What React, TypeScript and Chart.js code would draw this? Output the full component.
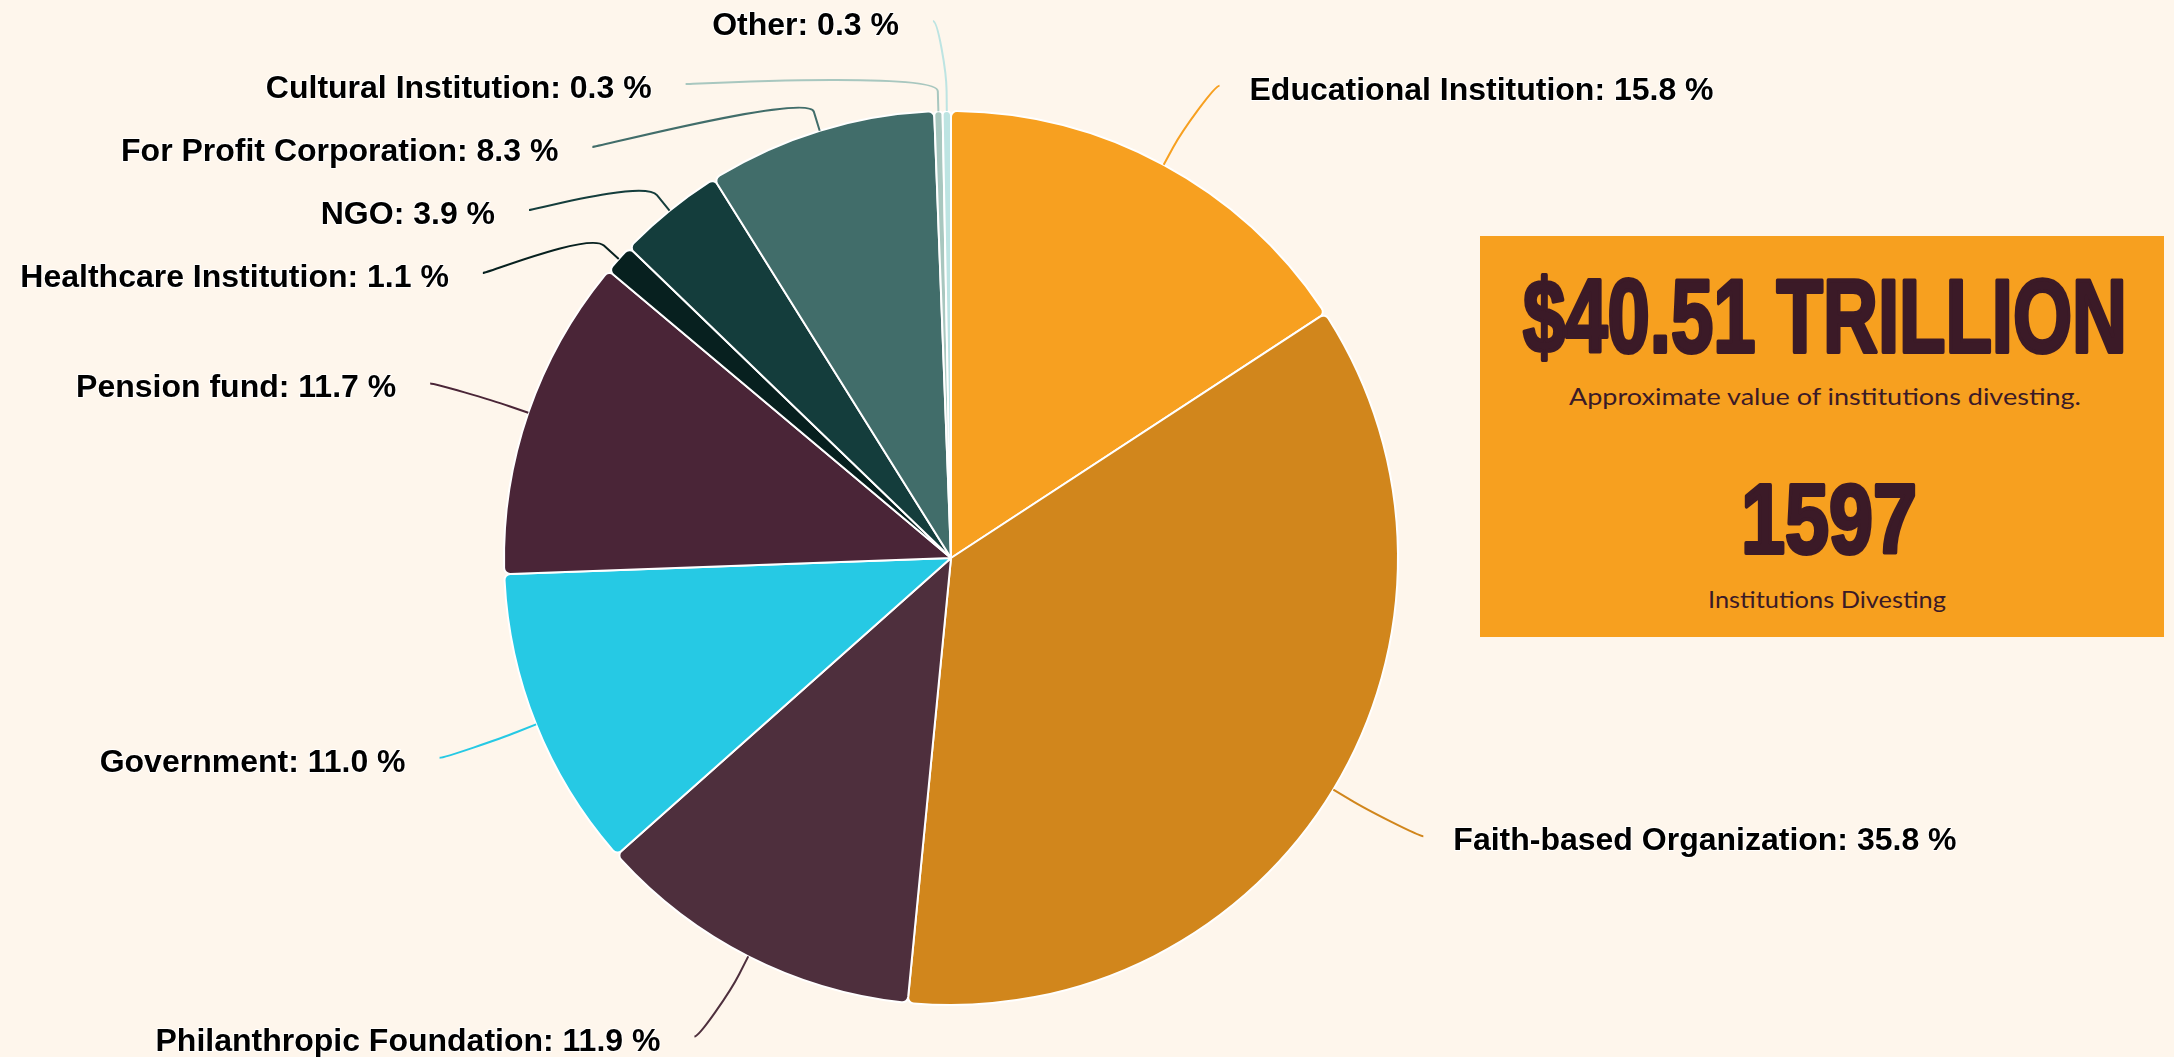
import { useEffect, useRef } from 'react';
import { Chart, registerables } from 'chart.js';

Chart.register(...registerables);

const W = 2174;
const H = 1057;
const BG = '#FEF6EC';
const INK = '#3B1A27';

// ---- data ----
const categories = [
  'Educational Institution',
  'Faith-based Organization',
  'Philanthropic Foundation',
  'Government',
  'Pension fund',
  'Healthcare Institution',
  'NGO',
  'For Profit Corporation',
  'Cultural Institution',
  'Other',
];
const shares = [15.8, 35.8, 11.9, 11.0, 11.7, 1.1, 3.9, 8.3, 0.3, 0.3];
const sliceColors = [
  '#F7A020',
  '#D1861C',
  '#4E2F3D',
  '#26C9E4',
  '#4A2537',
  '#07201F',
  '#143D3C',
  '#416D6A',
  '#A8C7BF',
  '#BDE4E2',
];

const totalValue = '$40.51 TRILLION';
const totalValueCaption = 'Approximate value of institutions divesting.';
const institutionCount = '1597';
const institutionCountCaption = 'Institutions Divesting';

// ---- label layout parameters ----
const LABEL_DISTANCE = 90;
const BREAK_DISTANCE = 20;
const LABEL_PADDING = 13;
const LABEL_SLOT = 63;
const LABEL_FONT = 'bold 32px "Liberation Sans", Arial, Helvetica, sans-serif';

function distribute(targets: number[], slot: number, minC: number, maxC: number): number[] {
  type G = { idx: number[]; sum: number; first: number };
  const place = (g: G) => {
    const n = g.idx.length;
    let first = g.sum / n - ((n - 1) * slot) / 2;
    first = Math.max(minC, Math.min(first, maxC - (n - 1) * slot));
    g.first = first;
  };
  const groups: G[] = targets.map((t, i) => ({ idx: [i], sum: t, first: t }));
  groups.forEach(place);
  let merged = true;
  while (merged) {
    merged = false;
    for (let i = 0; i < groups.length - 1; i++) {
      const a = groups[i];
      const b = groups[i + 1];
      const aLast = a.first + (a.idx.length - 1) * slot;
      if (b.first < aLast + slot) {
        const g: G = { idx: [...a.idx, ...b.idx], sum: a.sum + b.sum, first: 0 };
        place(g);
        groups.splice(i, 2, g);
        merged = true;
        break;
      }
    }
  }
  const out: number[] = new Array(targets.length);
  groups.forEach((g) => g.idx.forEach((k, j) => (out[k] = g.first + j * slot)));
  return out;
}

const outsideLabels = {
  id: 'outsideLabels',
  afterDatasetsDraw(chart: any) {
    const meta = chart.getDatasetMeta(0);
    const arcs = meta.data as any[];
    if (!arcs.length) return;
    const ctx: CanvasRenderingContext2D = chart.ctx;
    const cx = arcs[0].x;
    const cy = arcs[0].y;
    const r = arcs[0].outerRadius;
    const R = r + LABEL_DISTANCE;
    const items = arcs.map((arc, i) => {
      const mid = (arc.startAngle + arc.endAngle) / 2;
      const cos = Math.cos(mid);
      const sin = Math.sin(mid);
      return { i, cos, sin, left: cos < 0, natural: cy + R * sin, x: 0, y: 0 };
    });
    for (const left of [false, true]) {
      const half = items.filter((it) => it.left === left).sort((a, b) => a.natural - b.natural);
      const ys = distribute(half.map((h) => h.natural), LABEL_SLOT, cy - R, cy + R);
      half.forEach((h, k) => {
        h.y = ys[k];
        const yForX = h.y < cy - R + 2 || h.y > cy + R - 2 ? h.natural : h.y;
        const dy = Math.max(-R, Math.min(R, yForX - cy));
        const dx = Math.sqrt(R * R - dy * dy) + LABEL_PADDING;
        h.x = cx + (left ? -dx : dx);
      });
    }
    ctx.save();
    for (const it of items) {
      const color = sliceColors[it.i];
      const tx = cx + r * it.cos;
      const ty = cy + r * it.sin;
      const bx = cx + (r + BREAK_DISTANCE) * it.cos;
      const by = cy + (r + BREAK_DISTANCE) * it.sin;
      ctx.beginPath();
      ctx.moveTo(it.x, it.y);
      ctx.bezierCurveTo(it.x + (it.left ? 5 : -5), it.y, 2 * bx - tx, 2 * by - ty, bx, by);
      ctx.lineTo(tx, ty);
      ctx.strokeStyle = color;
      ctx.lineWidth = 2;
      ctx.lineJoin = 'round';
      ctx.stroke();

      const text = `${categories[it.i]}: ${shares[it.i].toFixed(1)} %`;
      ctx.font = LABEL_FONT;
      ctx.textAlign = it.left ? 'right' : 'left';
      ctx.textBaseline = 'alphabetic';
      const lx = it.left ? it.x - 34 : it.x + 30;
      const ly = it.y + 14;
      ctx.lineWidth = 2;
      ctx.strokeStyle = '#ffffff';
      ctx.strokeText(text, lx, ly);
      ctx.fillStyle = '#000000';
      ctx.fillText(text, lx, ly);
    }
    ctx.restore();
  },
};

export default function App() {
  const ref = useRef<HTMLCanvasElement>(null);

  useEffect(() => {
    if (!ref.current) return;
    const chart = new Chart(ref.current, {
      type: 'pie',
      data: {
        labels: categories,
        datasets: [
          {
            data: shares,
            backgroundColor: sliceColors,
            borderColor: '#ffffff',
            borderWidth: 2,
            borderRadius: 6,
            hoverOffset: 0,
            radius: 447,
          } as any,
        ],
      },
      options: {
        responsive: false,
        animation: false,
        devicePixelRatio: 1,
        events: [],
        layout: { padding: { left: 504, right: 776, top: 111, bottom: 52 } },
        plugins: {
          legend: { display: false },
          tooltip: { enabled: false },
        },
      },
      plugins: [outsideLabels as any],
    });
    return () => chart.destroy();
  }, []);

  const boxW = 684;
  const boxH = 401;
  const mid = 345;

  return (
    <div
      style={{
        position: 'fixed',
        left: 0,
        top: 0,
        width: W,
        height: H,
        background: BG,
        overflow: 'hidden',
      }}
    >
      <canvas
        ref={ref}
        width={W}
        height={H}
        style={{ position: 'absolute', left: 0, top: 0, width: W, height: H }}
      />
      <svg
        style={{ position: 'absolute', left: 1480, top: 236 }}
        width={boxW}
        height={boxH}
      >
        <rect x={0} y={0} width={boxW} height={boxH} fill="#F7A01F" />
        <text
          x={mid}
          y={116}
          textAnchor="middle"
          fill={INK}
          stroke={INK}
          strokeWidth={4}
          strokeLinejoin="round"
          fontFamily='"Liberation Sans", Arial, sans-serif'
          fontWeight="bold"
          fontSize={103}
          textLength={604}
          lengthAdjust="spacingAndGlyphs"
        >
          {totalValue}
        </text>
        <text
          x={mid}
          y={169}
          textAnchor="middle"
          fill={INK}
          fontFamily="Lato, 'Open Sans', sans-serif"
          fontSize={24}
          textLength={512}
          lengthAdjust="spacingAndGlyphs"
        >
          {totalValueCaption}
        </text>
        <text
          x={mid + 4}
          y={317}
          textAnchor="middle"
          fill={INK}
          stroke={INK}
          strokeWidth={4}
          strokeLinejoin="round"
          fontFamily='"Liberation Sans", Arial, sans-serif'
          fontWeight="bold"
          fontSize={98}
          textLength={176}
          lengthAdjust="spacingAndGlyphs"
        >
          {institutionCount}
        </text>
        <text
          x={mid + 2}
          y={372}
          textAnchor="middle"
          fill={INK}
          fontFamily="Lato, 'Open Sans', sans-serif"
          fontSize={24}
          textLength={238}
          lengthAdjust="spacingAndGlyphs"
        >
          {institutionCountCaption}
        </text>
      </svg>
    </div>
  );
}
